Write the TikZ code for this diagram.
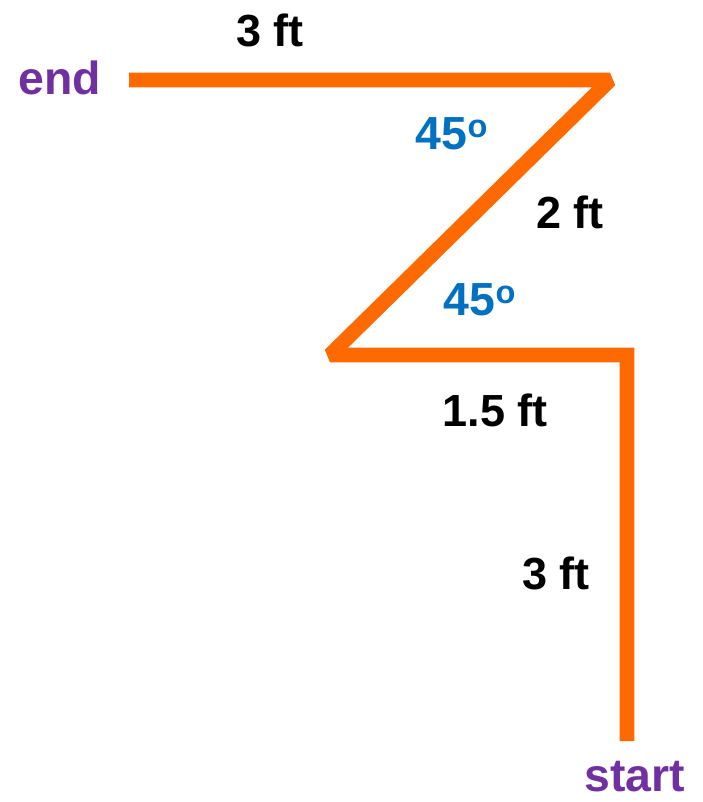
\documentclass[tikz,border=0pt]{standalone}
\usepackage{fontspec}
\setmainfont{Liberation Sans}
\usepackage{xcolor}
\usetikzlibrary{positioning}

\definecolor{pathorange}{HTML}{FF6A00}
\definecolor{tagpurple}{HTML}{7030A0}
\definecolor{angleblue}{HTML}{0070C0}

\begin{document}
\begin{tikzpicture}[
    x=0.025cm, y=-0.025cm,
    route/.style={line width=0.37cm, draw=pathorange, line join=miter, miter limit=1.5},
    dist/.style={font=\fontsize{32}{37}\selectfont\bfseries, text=black, inner sep=0pt},
    tag/.style={font=\fontsize{33}{38}\selectfont\bfseries, text=tagpurple, inner sep=0pt},
    angle label/.style={font=\fontsize{33}{38}\selectfont\bfseries, text=angleblue, inner sep=0pt}
]
\useasboundingbox (0,0) rectangle (703,802);

% Corners of the walk
\coordinate (start) at (627,741);
\coordinate (turn1) at (627,355);
\coordinate (turn2) at (330,355);
\coordinate (turn3) at (610,80);
\coordinate (finish) at (129,80);

% Path
\draw[route] (start) -- (turn1) -- (turn2) -- (turn3) -- (finish);

% Start and end
\node[tag] (start_lbl) at (635,777) {start};
\node[tag] (end_lbl) at (60,78) {end};

% Lengths
\node[dist] (len_top) at (270,30) {3 ft};
\node[dist] (len_diag) at (570,212) {2 ft};
\node[dist] (len_mid) at (495,410) {1.5 ft};
\node[dist] (len_up) at (556,573) {3 ft};

% Angles
\node[angle label] (ang_top) at (452,134) {45\textsuperscript{o}};
\node[angle label] (ang_low) at (480,300) {45\textsuperscript{o}};

\end{tikzpicture}
\end{document}
